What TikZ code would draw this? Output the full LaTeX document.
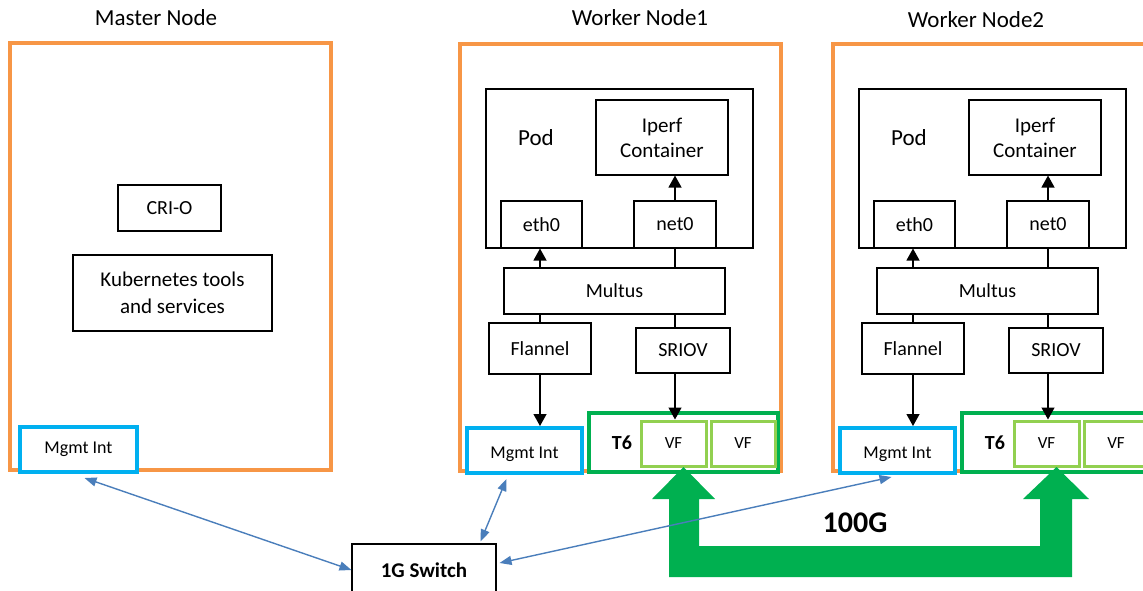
\documentclass[tikz,border=0pt]{standalone}
\usepackage{fontspec}
\setmainfont{Carlito}
\usetikzlibrary{arrows.meta, calc}
\definecolor{hostOrange}{RGB}{247,150,70}
\definecolor{mgmtCyan}{RGB}{0,176,240}
\definecolor{nicGreen}{RGB}{0,176,80}
\definecolor{vfGreen}{RGB}{146,208,80}
\definecolor{linkBlue}{RGB}{74,126,187}
\tikzset{
    host/.style={rectangle, draw=hostOrange, line width=4pt, minimum width=321pt, minimum height=427pt},
    blk/.style={rectangle, draw=black, line width=1.1pt, fill=white, align=center, inner sep=0pt,
                font=\fontsize{20}{24}\selectfont},
    mgmt/.style={rectangle, draw=mgmtCyan, line width=4pt, fill=white, inner sep=0pt,
                 minimum width=115pt, minimum height=45pt, font=\fontsize{18}{21}\selectfont},
    nic/.style={rectangle, draw=nicGreen, line width=4pt, fill=white, minimum width=189pt, minimum height=59pt},
    vf/.style={rectangle, draw=vfGreen, line width=3pt, minimum width=64pt, minimum height=45pt,
               font=\fontsize{17}{20}\selectfont},
    hdr/.style={font=\fontsize{23}{27}\selectfont},
    wire/.style={black, line width=1.3pt},
    push/.style={wire, -{Triangle[length=12pt,width=13pt]}},
    link/.style={linkBlue, line width=1.4pt, {Triangle[length=12pt,width=9pt]}-{Triangle[length=12pt,width=9pt]}}
}
\begin{document}
\begin{tikzpicture}[x=1pt, y=-1pt]
    \useasboundingbox (0,0) rectangle (1143,591);
    % master
    \node[hdr] (mtitle) at (156,18) {Master Node};
    \node[host] (master) at (170.5,256.5) {};
    \node[blk, minimum width=103pt, minimum height=46pt] (crio) at (169.5,208) {CRI-O};
    \node[blk, minimum width=199pt, minimum height=76pt, font=\fontsize{21}{27}\selectfont] (kube) at (172.5,293) {Kubernetes tools\\and services};
    \node[mgmt, minimum width=117pt] (mgmt0) at (78.5,449.5) {Mgmt Int};
    % workers
    \node[hdr] (wtitle1) at (640,18) {Worker Node1};
    \node[hdr] (wtitle2) at (976,20) {Worker Node2};
    \foreach \w/\dx in {1/0, 2/373} {
        \node[host] (wn\w) at (620+\dx,257.5) {};
        \node[blk, minimum width=267pt, minimum height=159pt] (pod\w) at (619.5+\dx,168.5) {};
        \node[hdr] (podlbl\w) at (536+\dx,138) {Pod};
        \node[blk, minimum width=132pt, minimum height=75pt, font=\fontsize{21}{25}\selectfont] (iperf\w) at (662+\dx,137.5) {Iperf\\Container};
        \node[blk, minimum width=81pt, minimum height=47pt] (eth\w) at (541.5+\dx,224.5) {eth0};
        \node[blk, minimum width=82pt, minimum height=47pt] (net\w) at (675+\dx,224.5) {net0};
        \node[blk, minimum width=221pt, minimum height=46pt] (multus\w) at (614.5+\dx,291) {Multus};
        \node[blk, minimum width=102pt, minimum height=51pt] (flannel\w) at (540+\dx,348.5) {Flannel};
        \node[blk, minimum width=94pt, minimum height=45pt] (sriov\w) at (683+\dx,350.5) {SRIOV};
        \node[mgmt, text depth=2pt, text height=17pt] (mgmt\w) at (524.5+\dx,450.5) {Mgmt Int};
        \node[nic] (t6\w) at (683.5+\dx,442.5) {};
        \node[font=\fontsize{20}{24}\selectfont\bfseries] (t6lbl\w) at (622+\dx,443) {T6};
        \node[vf, minimum width=65pt] (vfa\w) at (673.5+\dx,443.5) {VF};
        \node[vf] (vfb\w) at (743+\dx,443.5) {VF};
        \draw[push] (multus\w.north -| flannel\w) -- (eth\w.south -| flannel\w);
        \draw[push] (net\w.north) -- (iperf\w.south -| net\w);
        \draw[wire] (net\w.south) -- (multus\w.north -| net\w);
        \draw[wire] (multus\w.south -| flannel\w) -- (flannel\w.north);
        \draw[wire] (multus\w.south -| net\w) -- (sriov\w.north -| net\w);
        \draw[push] (flannel\w.south) -- (mgmt\w.north -| flannel\w);
        \draw[push] (sriov\w.south -| net\w) -- (vfa\w.north -| net\w);
    }
    % 100G link
    \coordinate (tipA) at ($(t61.south)+(0,-7)$);
    \coordinate (tipB) at ($(t62.south)+(0,-7)$);
    \fill[nicGreen] (tipA) -- ++(31.5,32) -- ++(-16,0) -- ++(0,47) -- ++(341,0) -- ++(0,-47) -- ++(-17,0)
        -- (tipB) -- ++(32.5,32) -- ++(-17,0) -- ++(0,78) -- ++(-403,0) -- ++(0,-78) -- ++(-17,0) -- cycle;
    \node[font=\fontsize{30}{36}\selectfont\bfseries] (speed) at (855,523) {100G};
    % switch
    \node[blk, minimum width=144pt, minimum height=52pt, font=\fontsize{21}{25}\selectfont\bfseries] (switch) at (424,570) {1G Switch};
    \draw[link] ($(mgmt0.south)+(6,4)$) -- (switch.west);
    \draw[link] ($(mgmt1.south)+(-18,4)$) -- ($(switch.north east)+(-16,-2)$);
    \draw[link] ($(switch.east)+(3,-7)$) -- ($(mgmt2.south)+(-6,2)$);
\end{tikzpicture}
\end{document}
